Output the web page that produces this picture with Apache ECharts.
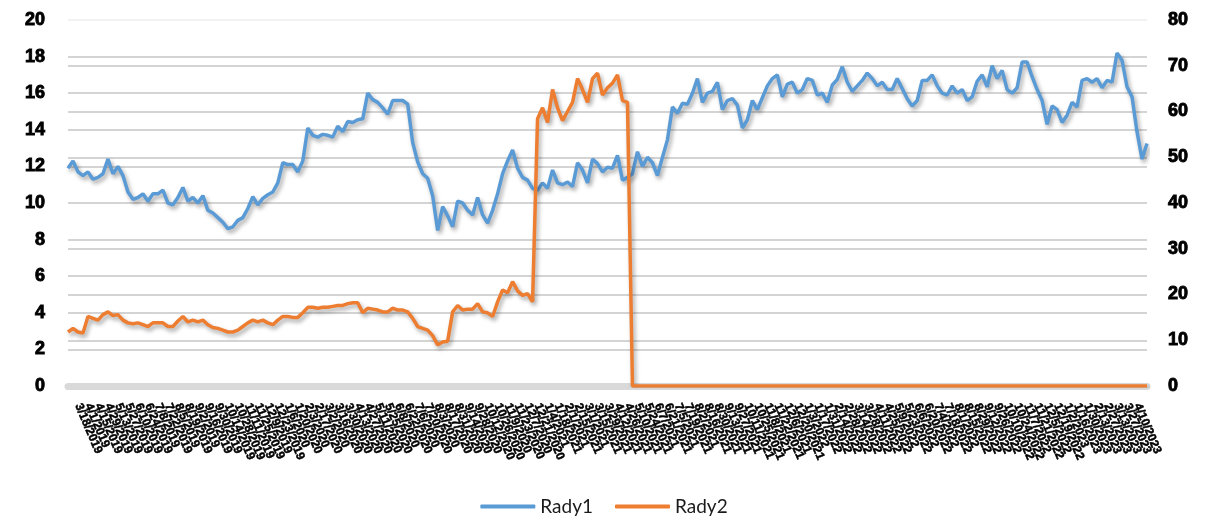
<!DOCTYPE html>
<html>
<head>
    <meta charset="UTF-8">
    <title>Rady</title>
    <script src="https://cdn.jsdelivr.net/npm/echarts@6/dist/echarts.min.js"></script>
    <style>
        html, body { margin: 0; padding: 0; background: #fff; }
        #container { width: 1208px; height: 519px; }
    </style>
</head>
<body>
<div id="container"></div>
<script>
    // hodnoty (Rady1 na levé ose, Rady2 na pravé ose)
    var rady1 = [
        11.9, 12.3, 11.7, 11.5, 11.7, 11.3, 11.4, 11.6, 12.4, 11.6,
        12.0, 11.5, 10.6, 10.2, 10.3, 10.5, 10.1, 10.5, 10.5, 10.7,
        10.0, 9.9, 10.3, 10.85, 10.1, 10.3, 10.0, 10.4, 9.6, 9.45,
        9.2, 8.95, 8.6, 8.7, 9.05, 9.2, 9.7, 10.35, 9.9, 10.25,
        10.45, 10.6, 11.1, 12.2, 12.1, 12.1, 11.7, 12.3, 14.1, 13.7,
        13.6, 13.75, 13.7, 13.6, 14.2, 13.9, 14.45, 14.4, 14.55, 14.6,
        16.0, 15.65, 15.5, 15.2, 14.85, 15.6, 15.6, 15.6, 15.4, 13.3,
        12.25, 11.6, 11.35, 10.4, 8.5, 9.8, 9.3, 8.7, 10.1, 10.0,
        9.6, 9.35, 10.3, 9.35, 8.9, 9.6, 10.5, 11.6, 12.3, 12.9,
        11.9, 11.4, 11.25, 10.8, 10.7, 11.1, 10.8, 11.8, 11.1, 11.0,
        11.15, 10.9, 12.2, 11.8, 11.1, 12.4, 12.15, 11.7, 11.95, 11.9,
        12.6, 11.25, 11.4, 11.6, 12.8, 12.0, 12.5, 12.2, 11.5, 12.5,
        13.45, 15.25, 14.9, 15.45, 15.4, 16.0, 16.8, 15.5, 16.0, 16.1,
        16.6, 15.1, 15.6, 15.7, 15.35, 14.1, 14.55, 15.6, 15.1, 15.75,
        16.4, 16.8, 17.0, 15.8, 16.5, 16.6, 16.0, 16.2, 16.8, 16.7,
        15.9, 16.0, 15.5, 16.45, 16.75, 17.45, 16.6, 16.1, 16.4, 16.7,
        17.1, 16.8, 16.4, 16.6, 16.2, 16.2, 16.8, 16.25, 15.7, 15.3,
        15.6, 16.7, 16.7, 17.0, 16.4, 16.0, 15.9, 16.4, 16.0, 16.2,
        15.6, 15.8, 16.65, 17.0, 16.35, 17.5, 16.8, 17.25, 16.2, 16.0,
        16.3, 17.7, 17.7, 16.9, 16.2, 15.6, 14.3, 15.3, 15.1, 14.4,
        14.8, 15.5, 15.25, 16.7, 16.8, 16.6, 16.8, 16.3, 16.7, 16.6,
        18.2, 17.8, 16.35, 15.8, 13.9, 12.4, 13.25
    ];
    var rady2 = [
        11.8, 12.6, 11.8, 11.6, 15.2, 14.8, 14.4, 15.6, 16.2, 15.4,
        15.6, 14.4, 13.8, 13.6, 13.8, 13.4, 13.0, 13.8, 13.8, 13.8,
        13.0, 13.0, 14.2, 15.2, 14.0, 14.4, 14.0, 14.4, 13.4, 12.8,
        12.6, 12.2, 11.8, 11.8, 12.2, 13.0, 13.8, 14.4, 14.0, 14.4,
        13.8, 13.4, 14.4, 15.2, 15.2, 15.0, 15.0, 16.0, 17.2, 17.2,
        17.0, 17.2, 17.2, 17.4, 17.6, 17.6, 18.0, 18.2, 18.2, 16.0,
        17.0, 16.8, 16.6, 16.2, 16.2, 17.0, 16.6, 16.6, 16.2, 14.8,
        13.0, 12.6, 12.2, 11.0, 9.0, 9.6, 9.8, 16.2, 17.6, 16.6,
        16.8, 16.8, 18.0, 16.2, 16.0, 15.2, 18.4, 21.0, 20.4, 22.8,
        20.8, 19.8, 20.2, 18.4, 58.4, 60.8, 57.6, 64.8, 60.8, 58.0,
        60.0, 62.0, 67.2, 64.8, 62.0, 67.2, 68.4, 63.6, 65.2, 66.2,
        68.0, 62.4, 62.0, 0, 0, 0, 0, 0, 0, 0,
        0, 0, 0, 0, 0, 0, 0, 0, 0, 0,
        0, 0, 0, 0, 0, 0, 0, 0, 0, 0,
        0, 0, 0, 0, 0, 0, 0, 0, 0, 0,
        0, 0, 0, 0, 0, 0, 0, 0, 0, 0,
        0, 0, 0, 0, 0, 0, 0, 0, 0, 0,
        0, 0, 0, 0, 0, 0, 0, 0, 0, 0,
        0, 0, 0, 0, 0, 0, 0, 0, 0, 0,
        0, 0, 0, 0, 0, 0, 0, 0, 0, 0,
        0, 0, 0, 0, 0, 0, 0, 0, 0, 0,
        0, 0, 0, 0, 0, 0, 0
    ];
    var leftTicks = { min: 0, max: 20, interval: 2 };
    var rightTicks = { min: 0, max: 80, interval: 10 };

    // popisky osy x jsou v originále nečitelné (překrývají se) - týdenní data
    var dates = [];
    var d = new Date(2019, 2, 4);
    for (var i = 0; i < rady1.length; i++) {
        dates.push((d.getMonth() + 1) + '/' + d.getDate() + '/' + d.getFullYear());
        d.setDate(d.getDate() + 7);
    }

    var grid1 = '#D4D4D4';
    function gridColors(n) {
        var c = [];
        for (var k = 0; k < n; k++) c.push(grid1);
        c[n - 1] = '#F2F2F2';
        return c;
    }
    var shadow = {
        shadowColor: 'rgba(0,0,0,0.35)',
        shadowBlur: 4,
        shadowOffsetX: 2,
        shadowOffsetY: 3
    };
    var boldFont = 'Liberation Sans';
    var yLabel = {
        fontSize: 18, fontWeight: 'bold', fontFamily: boldFont, color: '#000',
        textBorderColor: '#000', textBorderWidth: 0.9
    };

    var myChart = echarts.init(document.getElementById('container'));
    myChart.setOption({
        animation: false,
        textStyle: { fontFamily: 'Lato' },
        grid: { left: 68, right: 61, top: 20, bottom: 133 },
        legend: {
            bottom: -2,
            left: 'center',
            itemWidth: 55,
            itemHeight: 4,
            itemGap: 22,
            icon: 'roundRect',
            textStyle: { fontSize: 19, color: '#1a1a1a', fontFamily: 'Lato' },
            data: ['Rady1', 'Rady2']
        },
        xAxis: {
            type: 'category',
            data: dates,
            boundaryGap: false,
            axisLine: { lineStyle: { color: '#D9D9D9', width: 7 } },
            axisTick: { show: false },
            axisLabel: {
                interval: 1,
                rotate: -67,
                margin: 18,
                fontSize: 12,
                fontWeight: 'bold',
                fontFamily: boldFont,
                color: '#000',
                textBorderColor: '#000',
                textBorderWidth: 0.5
            },
            splitLine: { show: false }
        },
        yAxis: [{
            type: 'value',
            min: leftTicks.min,
            max: leftTicks.max,
            interval: leftTicks.interval,
            axisLine: { show: false },
            axisTick: { show: false },
            axisLabel: Object.assign({ margin: 23 }, yLabel),
            splitLine: { lineStyle: { color: gridColors(11), width: 2 } }
        }, {
            type: 'value',
            min: rightTicks.min,
            max: rightTicks.max,
            interval: rightTicks.interval,
            axisLine: { show: false },
            axisTick: { show: false },
            axisLabel: Object.assign({ margin: 21 }, yLabel),
            splitLine: { lineStyle: { color: gridColors(9), width: 2 } }
        }],
        series: [{
            name: 'Rady1',
            type: 'line',
            yAxisIndex: 0,
            data: rady1,
            showSymbol: false,
            itemStyle: { color: '#5B9BD5' },
            lineStyle: Object.assign({ color: '#5B9BD5', width: 3.5 }, shadow)
        }, {
            name: 'Rady2',
            type: 'line',
            yAxisIndex: 1,
            data: rady2,
            showSymbol: false,
            itemStyle: { color: '#ED7D31' },
            lineStyle: Object.assign({ color: '#ED7D31', width: 3.5 }, shadow)
        }]
    });
</script>
</body>
</html>
